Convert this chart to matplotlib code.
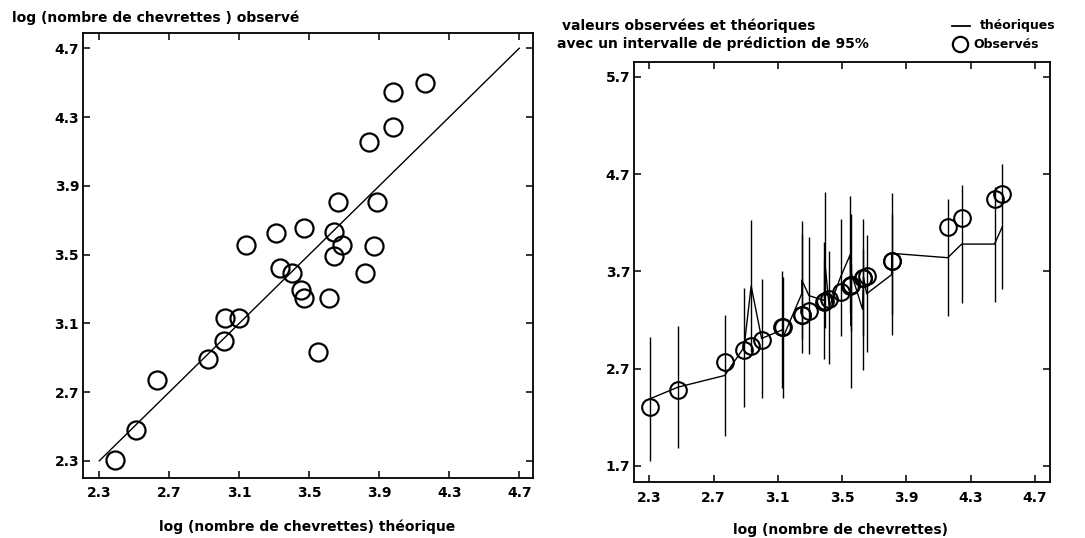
import matplotlib
matplotlib.use("Agg")
import matplotlib.pyplot as plt
import numpy as np

plt.rcParams["font.family"] = ["DejaVu Sans"]
plt.rcParams["font.weight"] = "bold"

# Observed log counts, sorted, with the model's fitted values and the
# half-width of the 95% prediction interval for each observation.
observed = [2.304, 2.479, 2.770, 2.890, 2.934, 2.999, 3.129, 3.132, 3.249,
            3.249, 3.294, 3.390, 3.391, 3.420, 3.490, 3.550, 3.556, 3.556,
            3.627, 3.633, 3.653, 3.808, 3.808, 4.157, 4.244, 4.448, 4.497]
theoretical = [2.39, 2.51, 2.63, 2.92, 3.55, 3.01, 3.10, 3.02, 3.47,
               3.61, 3.45, 3.40, 3.82, 3.33, 3.64, 3.87, 3.14, 3.685,
               3.31, 3.64, 3.47, 3.666, 3.885, 3.84, 3.98, 3.98, 4.16]
half_width = [0.64, 0.63, 0.625, 0.61, 0.68, 0.61, 0.60, 0.62, 0.61,
              0.61, 0.60, 0.60, 0.70, 0.58, 0.60, 0.60, 0.64, 0.60,
              0.62, 0.60, 0.60, 0.62, 0.62, 0.60, 0.61, 0.59, 0.64]

left_ticks = [2.3, 2.7, 3.1, 3.5, 3.9, 4.3, 4.7]
right_xticks = [2.3, 2.7, 3.1, 3.5, 3.9, 4.3, 4.7]
right_yticks = [1.7, 2.7, 3.7, 4.7, 5.7]
diag = [2.3, 4.7]

obs = np.array(observed)
theo = np.array(theoretical)
hw = np.array(half_width)

fig = plt.figure(figsize=(10.85, 5.38), dpi=100)
ax1 = fig.add_axes([0.0762, 0.1115, 0.4148, 0.8275])
ax2 = fig.add_axes([0.5843, 0.1035, 0.3834, 0.7818])

TICK_FS = 10

def style(ax):
    for s in ax.spines.values():
        s.set_linewidth(1.3)
    ax.tick_params(direction="in", top=True, right=True, length=5,
                   width=1.1, labelsize=TICK_FS)
    ax.tick_params(axis="x", pad=6)
    ax.tick_params(axis="y", pad=2.5)
    for lab in ax.get_xticklabels() + ax.get_yticklabels():
        lab.set_fontweight("bold")

# Observed against fitted values, with the identity line
ax1.plot(diag, diag, color="black", lw=1.0)
ax1.plot(theo, obs, linestyle="none", marker="o", ms=13, mfc="none",
         mec="black", mew=1.6)
ax1.set_xlim(2.205, 4.777)
ax1.set_ylim(2.2, 4.79)
ax1.set_xticks(left_ticks)
ax1.set_yticks(left_ticks)
ax1.set_xticklabels([f"{t:.1f}" for t in left_ticks])
ax1.set_yticklabels([f"{t:.1f}" for t in left_ticks])
style(ax1)

# Fitted curve, prediction intervals and observations
ax2.vlines(obs, theo - hw, theo + hw, color="black", lw=1.0)
ax2.plot(obs, theo, color="black", lw=1.0)
ax2.plot(obs, obs, linestyle="none", marker="o", ms=12, mfc="none",
         mec="black", mew=1.5)
ax2.set_xlim(2.205, 4.793)
ax2.set_ylim(1.532, 5.854)
ax2.set_xticks(right_xticks)
ax2.set_yticks(right_yticks)
ax2.set_xticklabels([f"{t:.1f}" for t in right_xticks])
ax2.set_yticklabels([f"{t:.1f}" for t in right_yticks])
style(ax2)

TXT_FS = 10
fig.text(0.011, 0.9665, "log (nombre de chevrettes ) observé",
         fontsize=TXT_FS, fontweight="bold", ha="left", va="center")
fig.text(0.2834, 0.021, "log (nombre de chevrettes) théorique",
         fontsize=TXT_FS, fontweight="bold", ha="center", va="center")
fig.text(0.775, 0.015, "log (nombre de chevrettes)",
         fontsize=TXT_FS, fontweight="bold", ha="center", va="center")
fig.text(0.518, 0.9517, "valeurs observées et théoriques",
         fontsize=TXT_FS, fontweight="bold", ha="left", va="center")
fig.text(0.513, 0.918, "avec un intervalle de prédiction de 95%",
         fontsize=TXT_FS, fontweight="bold", ha="left", va="center")

# Legend drawn by hand in figure coordinates
LEG_FS = 9
fig.add_artist(plt.Line2D([951.7 / 1085, 970 / 1085], [1 - 26 / 538, 1 - 26 / 538],
                          color="black", lw=1.3))
fig.add_artist(plt.Line2D([960 / 1085], [1 - 44 / 538], marker="o", ms=11,
                          mfc="none", mec="black", mew=1.6, linestyle="none"))
fig.text(980 / 1085, 1 - 26 / 538, "théoriques", fontsize=LEG_FS,
         fontweight="bold", ha="left", va="center")
fig.text(973.3 / 1085, 1 - 44 / 538, "Observés", fontsize=LEG_FS,
         fontweight="bold", ha="left", va="center")

fig.savefig("out.png", dpi=100)
